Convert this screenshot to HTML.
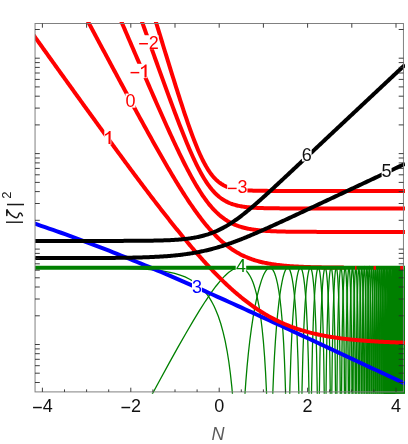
<!DOCTYPE html>
<html><head><meta charset="utf-8"><title>plot</title>
<style>
html,body{margin:0;padding:0;background:#fff;}
body{width:408px;height:444px;overflow:hidden;position:relative;font-family:"Liberation Sans",sans-serif;}
svg text{font-family:"Liberation Sans",sans-serif;}
</style></head><body>
<svg width="408" height="444" viewBox="0 0 408 444" style="position:absolute;left:0;top:0;will-change:transform">
<defs><clipPath id="c"><rect x="35.05" y="22.0" width="369.9" height="371.7"/></clipPath></defs>
<g clip-path="url(#c)" fill="none" stroke-linejoin="round">
<path d="M35.05 431.90L131.85 431.89L158.95 381.70L169.25 362.92L178.15 346.94L186.10 332.97L193.20 320.85L199.55 310.39L205.35 301.27L210.85 293.13L215.90 286.23L220.50 280.55L222.70 278.08L224.80 275.91L226.85 273.97L228.80 272.32L230.70 270.92L232.50 269.79L234.25 268.91L235.95 268.28L237.60 267.90L239.15 267.78L240.80 267.92L242.35 268.35L243.90 269.10L245.35 270.11L246.80 271.48L248.15 273.10L249.45 275.02L250.70 277.25L251.90 279.77L253.05 282.60L254.15 285.72L255.25 289.32L256.25 293.05L257.25 297.29L259.05 306.48L260.65 316.78L262.10 328.48L263.40 341.64L264.55 356.27L265.55 372.35L266.40 389.73L267.15 409.50L267.80 431.90L271.65 431.90L271.70 431.55L272.25 410.28L272.90 390.54L273.60 373.45L274.45 356.55L275.40 341.10L276.45 327.01L277.60 314.23L278.90 302.33L279.95 294.32L281.00 287.52L282.10 281.58L283.20 276.73L284.30 272.94L285.45 270.07L286.05 269.02L286.60 268.34L287.15 267.92L287.70 267.78L288.30 267.95L288.90 268.47L289.50 269.37L290.05 270.54L291.15 273.99L292.15 278.55L293.10 284.38L294.00 291.55L294.85 300.12L295.60 309.54L296.30 320.38L296.95 332.79L298.00 360.16L298.80 391.90L299.45 431.90L301.35 431.90L302.05 387.99L302.85 355.18L303.90 326.41L304.50 314.14L305.20 302.44L306.35 287.82L307.00 281.58L307.65 276.60L308.30 272.77L308.95 270.03L309.65 268.28L310.00 267.88L310.30 267.78L310.65 267.96L310.95 268.38L311.60 270.16L312.20 272.94L312.80 276.94L313.35 281.81L313.90 288.04L314.85 302.83L315.80 325.01L316.60 353.71L317.20 387.33L317.70 431.90L318.95 431.90L319.40 390.23L319.90 358.77L320.55 331.06L321.40 306.51L322.40 287.46L322.95 280.15L323.50 274.66L324.10 270.54L324.70 268.28L325.00 267.83L325.30 267.84L325.60 268.31L325.85 269.08L326.25 271.03L326.65 273.94L327.40 282.34L328.05 293.44L328.65 307.98L329.30 330.74L329.85 359.85L330.25 392.36L330.55 430.87L330.60 431.90L331.50 431.90L331.85 390.07L332.20 360.58L332.65 334.33L333.20 311.89L333.85 293.48L334.60 279.45L335.00 274.40L335.40 270.82L335.80 268.63L336.05 267.95L336.25 267.78L336.45 267.94L336.65 268.46L337.05 270.57L337.45 274.21L337.80 278.80L338.50 292.77L339.10 311.72L339.55 332.64L339.95 359.65L340.55 431.90L341.25 431.90L341.30 430.76L341.55 390.20L341.90 354.90L342.35 325.53L342.85 303.62L343.35 288.48L343.90 277.29L344.50 270.19L344.80 268.42L344.95 267.95L345.10 267.78L345.25 267.89L345.40 268.28L345.70 269.97L346.25 276.39L346.80 287.98L347.25 302.59L347.70 324.13L348.10 353.22L348.40 387.27L348.65 431.90L349.25 431.90L349.75 359.15L350.40 312.45L350.85 293.57L351.35 279.76L351.90 270.97L352.20 268.57L352.35 267.98L352.50 267.78L352.65 267.97L352.80 268.58L353.05 270.51L353.60 279.26L354.10 293.88L354.50 312.13L355.10 360.33L355.50 431.90L356.05 431.90L356.50 353.47L356.80 326.35L357.20 302.25L357.55 287.94L357.95 276.94L358.35 270.42L358.55 268.66L358.80 267.78L358.95 267.96L359.05 268.38L359.25 269.95L359.65 276.25L360.05 287.49L360.40 302.73L360.75 325.57L361.05 355.68L361.45 431.90L361.90 431.90L362.25 361.54L362.75 312.99L363.10 293.50L363.50 279.14L363.90 270.92L364.10 268.76L364.35 267.78L364.55 268.35L364.75 270.18L365.15 277.92L365.50 290.06L365.85 309.19L366.35 359.34L366.70 431.90L367.05 431.90L367.10 430.73L367.40 360.21L367.95 304.98L368.55 277.82L368.90 270.37L369.05 268.69L369.25 267.78L369.45 268.39L369.60 269.86L369.95 276.98L370.25 287.91L370.55 304.84L371.05 357.82L371.35 431.90L371.70 431.90L372.00 360.94L372.40 312.82L372.70 292.37L373.00 279.21L373.35 270.50L373.50 268.63L373.70 267.78L373.85 268.35L374.00 269.99L374.30 276.72L374.60 288.91L374.85 304.66L375.30 356.71L375.60 431.90L375.90 431.90L376.20 355.41L376.60 307.03L376.90 287.22L377.20 275.20L377.55 268.51L377.65 267.89L377.75 267.81L377.90 268.75L378.15 273.24L378.40 281.83L378.80 307.16L379.20 360.14L379.45 431.90L379.75 431.90L379.95 367.43L380.30 314.26L380.80 279.88L381.10 270.69L381.25 268.49L381.40 267.78L381.65 269.89L381.90 276.43L382.35 302.75L382.75 356.41L383.00 431.90L383.25 431.90L383.50 358.17L383.80 312.40L384.25 279.68L384.50 271.20L384.65 268.62L384.80 267.78L385.05 270.23L385.30 277.89L385.70 304.55L386.05 355.94L386.30 431.90L386.50 431.90L386.75 357.83L387.05 309.83L387.50 277.20L387.75 269.65L387.85 268.27L387.95 267.78L388.00 267.86L388.25 271.66L388.45 279.14L388.80 304.95L389.10 350.74L389.35 431.90L389.55 431.90L389.80 352.08L390.05 310.56L390.45 278.46L390.70 269.86L390.80 268.31L390.85 267.92L390.90 267.78L390.95 267.89L391.15 270.89L391.35 278.36L391.70 305.73L392.00 357.13L392.20 431.90L392.40 431.90L392.60 359.94L392.85 312.52L393.25 277.97L393.45 270.45L393.55 268.54L393.70 267.84L393.90 270.95L394.10 279.13L394.45 310.17L394.70 357.94L394.90 431.90L395.00 431.90" stroke="#008000" stroke-width="1.3" stroke-linejoin="miter"/>
<path d="M35.05 267.79L87.90 267.88L117.50 268.19L129.00 268.48L138.75 268.87L147.25 269.38L154.80 270.04L162.15 270.95L168.75 272.07L174.70 273.43L180.15 275.06L185.10 276.97L189.70 279.20L193.95 281.76L197.85 284.66L199.95 286.48L202.00 288.47L203.95 290.57L205.80 292.79L207.60 295.18L209.30 297.67L210.95 300.34L212.55 303.20L214.10 306.25L215.55 309.40L218.30 316.26L220.80 323.77L223.10 332.06L225.20 341.14L227.10 351.02L228.85 361.97L230.40 373.71L231.80 386.58L233.00 400.02L234.05 414.38L235.10 431.90L242.85 431.90L243.85 412.18L244.75 396.97L245.85 381.33L247.05 366.90L248.40 353.05L249.85 340.28L251.45 328.13L253.20 316.66L255.10 305.98L257.15 296.16L259.25 287.73L261.40 280.65L262.50 277.61L263.55 275.07L264.65 272.80L265.70 271.01L266.75 269.59L267.80 268.57L268.80 267.97L269.80 267.78L270.65 267.94L271.50 268.42L272.35 269.24L273.15 270.36L273.95 271.84L274.70 273.57L275.45 275.67L276.20 278.19L277.55 283.88L278.85 291.08L280.00 299.20L281.10 308.96L282.05 319.44L282.95 331.73L283.70 344.37L284.40 358.94L285.00 374.49L285.50 390.62L286.40 431.90L288.95 431.90L289.85 388.72L290.90 355.69L291.55 340.55L292.30 326.24L293.10 313.70L293.95 302.72L294.70 294.63L295.45 287.82L296.25 281.79L297.05 276.91L297.90 272.89L298.75 270.04L299.20 268.99L299.60 268.32L300.00 267.92L300.40 267.78L300.85 267.94L301.30 268.45L301.75 269.32L302.15 270.42L303.00 273.86L303.80 278.60L304.55 284.62L305.25 291.89L305.90 300.39L306.50 310.14L307.50 332.09L308.35 359.97L309.00 392.62L309.50 431.90L311.00 431.90L311.05 431.79L311.60 387.28L312.40 348.62L313.40 318.23L314.00 305.17L314.65 293.96L315.25 285.76L315.90 278.82L316.55 273.67L317.25 269.95L317.60 268.78L317.95 268.05L318.30 267.78L318.60 267.91L318.95 268.50L319.25 269.40L319.90 272.67L320.70 279.46L321.40 288.45L322.05 300.10L322.60 313.31L323.25 334.82L323.80 361.26L324.25 393.76L324.60 431.90L325.65 431.90L326.10 386.81L326.45 361.30L326.95 335.36L327.60 311.85L328.35 293.19L329.20 279.25L329.65 274.27L330.10 270.75L330.55 268.59L330.80 267.98L331.05 267.78L331.30 267.99L331.50 268.48L331.95 270.60L332.40 274.28L332.80 279.00L333.55 292.35L334.20 310.38L334.75 333.10L335.20 360.65L335.85 431.90L336.65 431.90L337.00 386.28L337.35 355.13L337.80 328.05L338.40 303.78L338.95 288.65L339.55 277.50L340.20 270.38L340.55 268.44L340.75 267.90L340.90 267.78L341.10 267.97L341.25 268.40L341.60 270.36L341.95 273.75L342.30 278.74L342.90 291.77L343.45 310.48L343.90 333.45L344.25 359.68L344.80 431.90L345.45 431.90L346.00 356.91L346.40 327.44L346.90 303.17L347.35 288.35L347.85 277.25L348.40 270.16L348.65 268.51L348.80 267.98L348.95 267.78L349.10 267.92L349.25 268.40L349.55 270.43L350.15 279.20L350.65 292.40L351.10 310.84L351.50 335.56L351.80 363.35L352.20 431.90L352.75 431.90L352.80 431.70L353.25 356.66L353.60 326.56L354.00 303.75L354.40 288.22L354.85 276.70L355.30 270.09L355.55 268.30L355.70 267.83L355.80 267.78L356.05 268.56L356.25 270.14L356.70 277.08L357.10 287.91L357.50 304.66L357.85 326.66L358.15 354.98L358.60 431.90L359.05 431.90L359.50 353.58L360.10 305.20L360.50 287.32L361.00 273.96L361.25 270.21L361.50 268.19L361.65 267.78L361.80 267.98L362.05 269.68L362.40 275.13L362.70 283.08L363.25 308.37L363.80 360.37L364.15 431.90L364.55 431.90L364.95 353.84L365.45 307.28L365.80 288.85L366.20 275.78L366.60 269.11L366.85 267.79L366.95 267.86L367.05 268.26L367.40 272.49L367.70 279.96L368.25 306.12L368.75 356.66L369.10 431.90L369.45 431.90L369.80 354.26L370.25 307.36L370.55 289.57L370.90 276.45L371.25 269.50L371.45 267.93L371.55 267.78L371.65 268.04L371.95 271.44L372.25 279.11L372.75 304.58L373.20 352.97L373.50 428.89L373.55 431.90L373.85 431.90L374.15 358.10L374.55 309.84L375.10 278.76L375.40 270.87L375.55 268.77L375.75 267.78L375.95 268.81L376.10 270.97L376.40 279.21L376.70 293.83L376.95 312.97L377.30 359.74L377.55 431.90L377.85 431.90L378.15 354.45L378.60 301.12L379.05 276.91L379.30 270.39L379.45 268.40L379.60 267.78L379.75 268.52L379.90 270.66L380.20 279.57L380.70 313.36L381.05 366.80L381.25 431.90L381.55 431.90L381.70 377.41L381.95 329.63L382.30 294.50L382.70 274.46L383.00 268.38L383.10 267.81L383.20 267.95L383.35 269.50L383.65 277.83L383.95 294.79L384.40 349.83L384.65 429.70L384.70 431.90L384.90 431.90L385.20 348.52L385.55 301.60L385.80 283.61L386.05 273.03L386.35 267.90L386.40 267.78L386.45 267.86L386.50 268.14L386.65 270.27L387.05 286.43L387.35 312.70L387.60 353.00L387.85 431.90L388.05 431.90L388.30 355.20L388.60 307.43L389.05 275.66L389.30 268.90L389.45 267.78L389.55 268.21L389.75 271.99L389.95 280.08L390.30 308.29L390.60 360.43L390.80 431.90L391.00 431.90L391.20 361.67L391.45 314.41L391.85 279.36L392.05 271.33L392.30 267.78L392.50 269.81L392.70 276.46L393.05 302.51L393.35 352.20L393.55 431.90L393.75 431.90L393.95 360.20L394.20 311.62L394.55 279.70L394.75 271.16L394.85 268.89L395.00 267.79" stroke="#008000" stroke-width="1.3" stroke-linejoin="miter"/>
<linearGradient id="gh" gradientUnits="userSpaceOnUse" x1="335" y1="0" x2="386" y2="0"><stop offset="0" stop-color="#008000" stop-opacity="0"/><stop offset="1" stop-color="#008000" stop-opacity="0.75"/></linearGradient>
<linearGradient id="gv" gradientUnits="userSpaceOnUse" x1="0" y1="268" x2="0" y2="335"><stop offset="0" stop-color="#fff" stop-opacity="0.3"/><stop offset="1" stop-color="#fff" stop-opacity="1"/></linearGradient>
<mask id="mk" maskUnits="userSpaceOnUse" x="0" y="0" width="408" height="444"><rect x="0" y="0" width="408" height="444" fill="url(#gv)"/></mask>
<rect x="335" y="268" width="70.5" height="126.89999999999998" fill="url(#gh)" stroke="none" mask="url(#mk)"/>
<path d="M393 267.8L384 327.8V394.9H405.5V267.8Z" fill="#008000" stroke="none"/>
<path d="M33.05 223.06L37.05 224.41L41.05 225.77L45.05 227.14L49.05 228.52L53.05 229.92L57.05 231.33L61.05 232.75L65.05 234.18L69.05 235.63L73.05 237.08L77.05 238.55L81.05 240.03L85.05 241.53L89.05 243.03L93.05 244.55L97.05 246.08L101.05 247.62L105.05 249.17L109.05 250.73L113.05 252.31L117.05 253.89L121.05 255.49L125.05 257.10L129.05 258.71L133.05 260.34L137.05 261.98L141.05 263.63L145.05 265.29L149.05 266.95L153.05 268.63L157.05 270.32L161.05 272.01L165.05 273.72L169.05 275.43L173.05 277.15L177.05 278.88L181.05 280.62L185.05 282.36L189.05 284.11L193.05 285.87L197.05 287.64L201.05 289.41L205.05 291.19L209.05 292.97L213.05 294.76L217.05 296.55L221.05 298.35L225.05 300.15L229.05 301.96L233.05 303.78L237.05 305.59L241.05 307.42L245.05 309.24L249.05 311.07L253.05 312.90L257.05 314.74L261.05 316.57L265.05 318.41L269.05 320.26L273.05 322.10L277.05 323.95L281.05 325.80L285.05 327.65L289.05 329.51L293.05 331.36L297.05 333.22L301.05 335.08L305.05 336.94L309.05 338.80L313.05 340.66L317.05 342.52L321.05 344.39L325.05 346.25L329.05 348.12L333.05 349.99L337.05 351.85L341.05 353.72L345.05 355.59L349.05 357.46L353.05 359.33L357.05 361.20L361.05 363.07L365.05 364.94L369.05 366.82L373.05 368.69L377.05 370.56L381.05 372.43L385.05 374.31L389.05 376.18L393.05 378.05L397.05 379.93L401.05 381.80L405.05 383.67" stroke="#0000ff" stroke-width="4.0"/>
<path d="M148.05 -3.80L149.05 -0.53L150.05 2.75L151.05 6.02L152.05 9.30L153.05 12.57L154.05 15.84L155.05 19.12L156.05 22.39L157.05 25.65L158.05 28.92L159.05 32.18L160.05 35.45L161.05 38.71L162.05 41.96L163.05 45.22L164.05 48.47L165.05 51.72L166.05 54.96L167.05 58.20L168.05 61.43L169.05 64.66L170.05 67.88L171.05 71.10L172.05 74.30L173.05 77.50L174.05 80.69L175.05 83.87L176.05 87.03L177.05 90.19L178.05 93.33L179.05 96.45L180.05 99.55L181.05 102.64L182.05 105.71L183.05 108.75L184.05 111.77L185.05 114.76L186.05 117.72L187.05 120.65L188.05 123.54L189.05 126.40L190.05 129.22L191.05 131.99L192.05 134.72L193.05 137.39L194.05 140.02L195.05 142.58L196.05 145.09L197.05 147.54L198.05 149.92L199.05 152.23L200.05 154.47L201.05 156.64L202.05 158.74L203.05 160.75L204.05 162.69L205.05 164.54L206.05 166.32L207.05 168.01L208.05 169.63L209.05 171.16L210.05 172.60L211.05 173.97L212.05 175.26L213.05 176.48L214.05 177.62L215.05 178.68L216.05 179.68L217.05 180.60L218.05 181.47L219.05 182.27L220.05 183.01L221.05 183.70L222.05 184.33L223.05 184.91L224.05 185.45L225.05 185.95L226.05 186.40L227.05 186.82L228.05 187.20L229.05 187.54L230.05 187.86L231.05 188.15L232.05 188.41L233.05 188.65L234.05 188.87L235.05 189.07L236.05 189.25L237.05 189.41L238.05 189.56L239.05 189.70L240.05 189.82L241.05 189.93L242.05 190.03L243.05 190.12L244.05 190.20L245.05 190.27L246.05 190.34L247.05 190.40L248.05 190.45L249.05 190.50L250.05 190.54L251.05 190.58L252.05 190.62L253.05 190.65L254.05 190.68L255.05 190.71L256.05 190.73L257.05 190.75L258.05 190.77L259.05 190.79L260.05 190.80L261.05 190.82L262.05 190.83L263.05 190.84L264.05 190.85L265.05 190.86L266.05 190.87L267.05 190.87L268.05 190.88L269.05 190.89L270.05 190.89L271.05 190.90L272.05 190.90L273.05 190.90L274.05 190.91L275.05 190.91L276.05 190.91L277.05 190.92L278.05 190.92L279.05 190.92L280.05 190.92L281.05 190.92L282.05 190.92L283.05 190.93L284.05 190.93L285.05 190.93L286.05 190.93L287.05 190.93L288.05 190.93L289.05 190.93L290.05 190.93L291.05 190.93L292.05 190.93L293.05 190.93L294.05 190.93L295.05 190.93L296.05 190.93L297.05 190.93L298.05 190.93L299.05 190.93L300.05 190.93L301.05 190.93L302.05 190.93L303.05 190.93L304.05 190.94L305.05 190.94L306.05 190.94L307.05 190.94L308.05 190.94L309.05 190.94L310.05 190.94L311.05 190.94L312.05 190.94L313.05 190.94L314.05 190.94L315.05 190.94L316.05 190.94L317.05 190.94L318.05 190.94L319.05 190.94L320.05 190.94L321.05 190.94L322.05 190.94L323.05 190.94L324.05 190.94L325.05 190.94L326.05 190.94L327.05 190.94L328.05 190.94L329.05 190.94L330.05 190.94L331.05 190.94L332.05 190.94L333.05 190.94L334.05 190.94L335.05 190.94L336.05 190.94L337.05 190.94L338.05 190.94L339.05 190.94L340.05 190.94L341.05 190.94L342.05 190.94L343.05 190.94L344.05 190.94L345.05 190.94L346.05 190.94L347.05 190.94L348.05 190.94L349.05 190.94L350.05 190.94L351.05 190.94L352.05 190.94L353.05 190.94L354.05 190.94L355.05 190.94L356.05 190.94L357.05 190.94L358.05 190.94L359.05 190.94L360.05 190.94L361.05 190.94L362.05 190.94L363.05 190.94L364.05 190.94L365.05 190.94L366.05 190.94L367.05 190.94L368.05 190.94L369.05 190.94L370.05 190.94L371.05 190.94L372.05 190.94L373.05 190.94L374.05 190.94L375.05 190.94L376.05 190.94L377.05 190.94L378.05 190.94L379.05 190.94L380.05 190.94L381.05 190.94L382.05 190.94L383.05 190.94L384.05 190.94L385.05 190.94L386.05 190.94L387.05 190.94L388.05 190.94L389.05 190.94L390.05 190.94L391.05 190.94L392.05 190.94L393.05 190.94L394.05 190.94L395.05 190.94L396.05 190.94L397.05 190.94L398.05 190.94L399.05 190.94L400.05 190.94L401.05 190.94L402.05 190.94L403.05 190.94L404.05 190.94L405.05 190.94" stroke="#ff0000" stroke-width="4.0"/>
<path d="M132.05 -6.20L133.05 -3.39L134.05 -0.58L135.05 2.23L136.05 5.04L137.05 7.84L138.05 10.65L139.05 13.46L140.05 16.27L141.05 19.07L142.05 21.88L143.05 24.68L144.05 27.48L145.05 30.29L146.05 33.09L147.05 35.89L148.05 38.69L149.05 41.48L150.05 44.28L151.05 47.07L152.05 49.87L153.05 52.66L154.05 55.44L155.05 58.23L156.05 61.01L157.05 63.79L158.05 66.57L159.05 69.35L160.05 72.12L161.05 74.88L162.05 77.64L163.05 80.40L164.05 83.15L165.05 85.90L166.05 88.64L167.05 91.38L168.05 94.10L169.05 96.82L170.05 99.53L171.05 102.23L172.05 104.93L173.05 107.61L174.05 110.28L175.05 112.93L176.05 115.58L177.05 118.21L178.05 120.82L179.05 123.42L180.05 125.99L181.05 128.55L182.05 131.09L183.05 133.61L184.05 136.10L185.05 138.57L186.05 141.01L187.05 143.43L188.05 145.81L189.05 148.16L190.05 150.48L191.05 152.76L192.05 155.01L193.05 157.21L194.05 159.38L195.05 161.50L196.05 163.58L197.05 165.61L198.05 167.59L199.05 169.53L200.05 171.41L201.05 173.25L202.05 175.02L203.05 176.75L204.05 178.42L205.05 180.03L206.05 181.59L207.05 183.09L208.05 184.53L209.05 185.91L210.05 187.24L211.05 188.51L212.05 189.73L213.05 190.88L214.05 191.99L215.05 193.03L216.05 194.03L217.05 194.97L218.05 195.87L219.05 196.71L220.05 197.51L221.05 198.26L222.05 198.97L223.05 199.63L224.05 200.26L225.05 200.84L226.05 201.39L227.05 201.90L228.05 202.38L229.05 202.83L230.05 203.25L231.05 203.64L232.05 204.00L233.05 204.34L234.05 204.65L235.05 204.94L236.05 205.21L237.05 205.46L238.05 205.70L239.05 205.91L240.05 206.11L241.05 206.30L242.05 206.47L243.05 206.62L244.05 206.77L245.05 206.90L246.05 207.03L247.05 207.14L248.05 207.25L249.05 207.35L250.05 207.44L251.05 207.52L252.05 207.59L253.05 207.66L254.05 207.73L255.05 207.79L256.05 207.84L257.05 207.89L258.05 207.94L259.05 207.98L260.05 208.02L261.05 208.06L262.05 208.09L263.05 208.12L264.05 208.15L265.05 208.17L266.05 208.20L267.05 208.22L268.05 208.24L269.05 208.26L270.05 208.27L271.05 208.29L272.05 208.30L273.05 208.32L274.05 208.33L275.05 208.34L276.05 208.35L277.05 208.36L278.05 208.36L279.05 208.37L280.05 208.38L281.05 208.39L282.05 208.39L283.05 208.40L284.05 208.40L285.05 208.41L286.05 208.41L287.05 208.41L288.05 208.42L289.05 208.42L290.05 208.42L291.05 208.43L292.05 208.43L293.05 208.43L294.05 208.43L295.05 208.44L296.05 208.44L297.05 208.44L298.05 208.44L299.05 208.44L300.05 208.44L301.05 208.44L302.05 208.44L303.05 208.45L304.05 208.45L305.05 208.45L306.05 208.45L307.05 208.45L308.05 208.45L309.05 208.45L310.05 208.45L311.05 208.45L312.05 208.45L313.05 208.45L314.05 208.45L315.05 208.45L316.05 208.45L317.05 208.45L318.05 208.45L319.05 208.45L320.05 208.45L321.05 208.45L322.05 208.45L323.05 208.45L324.05 208.45L325.05 208.45L326.05 208.45L327.05 208.45L328.05 208.45L329.05 208.45L330.05 208.45L331.05 208.45L332.05 208.45L333.05 208.45L334.05 208.45L335.05 208.45L336.05 208.45L337.05 208.45L338.05 208.45L339.05 208.45L340.05 208.45L341.05 208.45L342.05 208.45L343.05 208.45L344.05 208.46L345.05 208.46L346.05 208.46L347.05 208.46L348.05 208.46L349.05 208.46L350.05 208.46L351.05 208.46L352.05 208.46L353.05 208.46L354.05 208.46L355.05 208.46L356.05 208.46L357.05 208.46L358.05 208.46L359.05 208.46L360.05 208.46L361.05 208.46L362.05 208.46L363.05 208.46L364.05 208.46L365.05 208.46L366.05 208.46L367.05 208.46L368.05 208.46L369.05 208.46L370.05 208.46L371.05 208.46L372.05 208.46L373.05 208.46L374.05 208.46L375.05 208.46L376.05 208.46L377.05 208.46L378.05 208.46L379.05 208.46L380.05 208.46L381.05 208.46L382.05 208.46L383.05 208.46L384.05 208.46L385.05 208.46L386.05 208.46L387.05 208.46L388.05 208.46L389.05 208.46L390.05 208.46L391.05 208.46L392.05 208.46L393.05 208.46L394.05 208.46L395.05 208.46L396.05 208.46L397.05 208.46L398.05 208.46L399.05 208.46L400.05 208.46L401.05 208.46L402.05 208.46L403.05 208.46L404.05 208.46L405.05 208.46" stroke="#ff0000" stroke-width="4.0"/>
<path d="M110.05 -4.99L111.05 -2.65L112.05 -0.31L113.05 2.03L114.05 4.37L115.05 6.71L116.05 9.05L117.05 11.39L118.05 13.73L119.05 16.07L120.05 18.41L121.05 20.75L122.05 23.09L123.05 25.43L124.05 27.76L125.05 30.10L126.05 32.44L127.05 34.77L128.05 37.11L129.05 39.44L130.05 41.78L131.05 44.11L132.05 46.44L133.05 48.77L134.05 51.10L135.05 53.43L136.05 55.76L137.05 58.09L138.05 60.41L139.05 62.74L140.05 65.06L141.05 67.38L142.05 69.70L143.05 72.02L144.05 74.34L145.05 76.65L146.05 78.97L147.05 81.28L148.05 83.59L149.05 85.89L150.05 88.19L151.05 90.49L152.05 92.79L153.05 95.09L154.05 97.38L155.05 99.66L156.05 101.95L157.05 104.22L158.05 106.50L159.05 108.77L160.05 111.03L161.05 113.29L162.05 115.55L163.05 117.79L164.05 120.04L165.05 122.27L166.05 124.50L167.05 126.72L168.05 128.93L169.05 131.13L170.05 133.33L171.05 135.51L172.05 137.69L173.05 139.85L174.05 142.00L175.05 144.14L176.05 146.27L177.05 148.38L178.05 150.48L179.05 152.57L180.05 154.64L181.05 156.69L182.05 158.73L183.05 160.75L184.05 162.75L185.05 164.73L186.05 166.69L187.05 168.63L188.05 170.54L189.05 172.44L190.05 174.31L191.05 176.15L192.05 177.97L193.05 179.76L194.05 181.53L195.05 183.26L196.05 184.97L197.05 186.64L198.05 188.29L199.05 189.90L200.05 191.48L201.05 193.03L202.05 194.54L203.05 196.02L204.05 197.46L205.05 198.87L206.05 200.24L207.05 201.58L208.05 202.87L209.05 204.14L210.05 205.36L211.05 206.55L212.05 207.70L213.05 208.81L214.05 209.89L215.05 210.92L216.05 211.93L217.05 212.89L218.05 213.82L219.05 214.72L220.05 215.58L221.05 216.40L222.05 217.20L223.05 217.95L224.05 218.68L225.05 219.38L226.05 220.04L227.05 220.68L228.05 221.28L229.05 221.86L230.05 222.41L231.05 222.94L232.05 223.44L233.05 223.91L234.05 224.36L235.05 224.79L236.05 225.20L237.05 225.58L238.05 225.95L239.05 226.29L240.05 226.62L241.05 226.93L242.05 227.22L243.05 227.50L244.05 227.76L245.05 228.01L246.05 228.24L247.05 228.46L248.05 228.67L249.05 228.86L250.05 229.05L251.05 229.22L252.05 229.39L253.05 229.54L254.05 229.69L255.05 229.82L256.05 229.95L257.05 230.07L258.05 230.19L259.05 230.29L260.05 230.39L261.05 230.49L262.05 230.58L263.05 230.66L264.05 230.74L265.05 230.81L266.05 230.88L267.05 230.95L268.05 231.01L269.05 231.06L270.05 231.12L271.05 231.17L272.05 231.21L273.05 231.26L274.05 231.30L275.05 231.34L276.05 231.37L277.05 231.41L278.05 231.44L279.05 231.47L280.05 231.50L281.05 231.53L282.05 231.55L283.05 231.57L284.05 231.59L285.05 231.61L286.05 231.63L287.05 231.65L288.05 231.67L289.05 231.68L290.05 231.70L291.05 231.71L292.05 231.72L293.05 231.74L294.05 231.75L295.05 231.76L296.05 231.77L297.05 231.78L298.05 231.79L299.05 231.79L300.05 231.80L301.05 231.81L302.05 231.82L303.05 231.82L304.05 231.83L305.05 231.83L306.05 231.84L307.05 231.84L308.05 231.85L309.05 231.85L310.05 231.85L311.05 231.86L312.05 231.86L313.05 231.86L314.05 231.87L315.05 231.87L316.05 231.87L317.05 231.88L318.05 231.88L319.05 231.88L320.05 231.88L321.05 231.88L322.05 231.89L323.05 231.89L324.05 231.89L325.05 231.89L326.05 231.89L327.05 231.89L328.05 231.89L329.05 231.90L330.05 231.90L331.05 231.90L332.05 231.90L333.05 231.90L334.05 231.90L335.05 231.90L336.05 231.90L337.05 231.90L338.05 231.90L339.05 231.90L340.05 231.90L341.05 231.90L342.05 231.90L343.05 231.90L344.05 231.90L345.05 231.91L346.05 231.91L347.05 231.91L348.05 231.91L349.05 231.91L350.05 231.91L351.05 231.91L352.05 231.91L353.05 231.91L354.05 231.91L355.05 231.91L356.05 231.91L357.05 231.91L358.05 231.91L359.05 231.91L360.05 231.91L361.05 231.91L362.05 231.91L363.05 231.91L364.05 231.91L365.05 231.91L366.05 231.91L367.05 231.91L368.05 231.91L369.05 231.91L370.05 231.91L371.05 231.91L372.05 231.91L373.05 231.91L374.05 231.91L375.05 231.91L376.05 231.91L377.05 231.91L378.05 231.91L379.05 231.91L380.05 231.91L381.05 231.91L382.05 231.91L383.05 231.91L384.05 231.91L385.05 231.91L386.05 231.91L387.05 231.91L388.05 231.91L389.05 231.91L390.05 231.91L391.05 231.91L392.05 231.91L393.05 231.91L394.05 231.91L395.05 231.91L396.05 231.91L397.05 231.91L398.05 231.91L399.05 231.91L400.05 231.91L401.05 231.91L402.05 231.91L403.05 231.91L404.05 231.91L405.05 231.91" stroke="#ff0000" stroke-width="4.0"/>
<path d="M73.05 -6.42L74.05 -4.55L75.05 -2.67L76.05 -0.80L77.05 1.07L78.05 2.94L79.05 4.82L80.05 6.69L81.05 8.56L82.05 10.43L83.05 12.30L84.05 14.18L85.05 16.05L86.05 17.92L87.05 19.79L88.05 21.66L89.05 23.53L90.05 25.40L91.05 27.27L92.05 29.14L93.05 31.01L94.05 32.88L95.05 34.75L96.05 36.62L97.05 38.49L98.05 40.36L99.05 42.22L100.05 44.09L101.05 45.96L102.05 47.83L103.05 49.69L104.05 51.56L105.05 53.42L106.05 55.29L107.05 57.15L108.05 59.02L109.05 60.88L110.05 62.74L111.05 64.60L112.05 66.47L113.05 68.33L114.05 70.19L115.05 72.05L116.05 73.90L117.05 75.76L118.05 77.62L119.05 79.48L120.05 81.33L121.05 83.19L122.05 85.04L123.05 86.89L124.05 88.74L125.05 90.59L126.05 92.44L127.05 94.29L128.05 96.14L129.05 97.98L130.05 99.83L131.05 101.67L132.05 103.51L133.05 105.35L134.05 107.19L135.05 109.02L136.05 110.86L137.05 112.69L138.05 114.52L139.05 116.35L140.05 118.17L141.05 120.00L142.05 121.82L143.05 123.64L144.05 125.45L145.05 127.27L146.05 129.08L147.05 130.89L148.05 132.69L149.05 134.49L150.05 136.29L151.05 138.09L152.05 139.88L153.05 141.67L154.05 143.45L155.05 145.23L156.05 147.01L157.05 148.78L158.05 150.55L159.05 152.31L160.05 154.07L161.05 155.82L162.05 157.57L163.05 159.31L164.05 161.05L165.05 162.78L166.05 164.50L167.05 166.22L168.05 167.93L169.05 169.63L170.05 171.33L171.05 173.02L172.05 174.70L173.05 176.37L174.05 178.04L175.05 179.69L176.05 181.34L177.05 182.98L178.05 184.61L179.05 186.22L180.05 187.83L181.05 189.43L182.05 191.02L183.05 192.59L184.05 194.16L185.05 195.71L186.05 197.25L187.05 198.78L188.05 200.29L189.05 201.79L190.05 203.28L191.05 204.75L192.05 206.21L193.05 207.65L194.05 209.08L195.05 210.50L196.05 211.89L197.05 213.27L198.05 214.64L199.05 215.98L200.05 217.31L201.05 218.62L202.05 219.92L203.05 221.19L204.05 222.45L205.05 223.69L206.05 224.91L207.05 226.11L208.05 227.29L209.05 228.45L210.05 229.58L211.05 230.70L212.05 231.80L213.05 232.88L214.05 233.94L215.05 234.97L216.05 235.99L217.05 236.98L218.05 237.96L219.05 238.91L220.05 239.84L221.05 240.75L222.05 241.64L223.05 242.50L224.05 243.35L225.05 244.17L226.05 244.98L227.05 245.76L228.05 246.52L229.05 247.27L230.05 247.99L231.05 248.69L232.05 249.37L233.05 250.03L234.05 250.68L235.05 251.30L236.05 251.91L237.05 252.50L238.05 253.07L239.05 253.62L240.05 254.15L241.05 254.67L242.05 255.17L243.05 255.65L244.05 256.12L245.05 256.57L246.05 257.01L247.05 257.43L248.05 257.84L249.05 258.23L250.05 258.61L251.05 258.98L252.05 259.33L253.05 259.67L254.05 259.99L255.05 260.31L256.05 260.61L257.05 260.91L258.05 261.19L259.05 261.46L260.05 261.72L261.05 261.97L262.05 262.21L263.05 262.44L264.05 262.66L265.05 262.87L266.05 263.08L267.05 263.28L268.05 263.47L269.05 263.65L270.05 263.82L271.05 263.99L272.05 264.15L273.05 264.30L274.05 264.45L275.05 264.59L276.05 264.73L277.05 264.86L278.05 264.98L279.05 265.10L280.05 265.22L281.05 265.33L282.05 265.43L283.05 265.53L284.05 265.63L285.05 265.72L286.05 265.81L287.05 265.90L288.05 265.98L289.05 266.06L290.05 266.13L291.05 266.20L292.05 266.27L293.05 266.34L294.05 266.40L295.05 266.46L296.05 266.52L297.05 266.57L298.05 266.62L299.05 266.67L300.05 266.72L301.05 266.77L302.05 266.81L303.05 266.85L304.05 266.89L305.05 266.93L306.05 266.97L307.05 267.01L308.05 267.04L309.05 267.07L310.05 267.10L311.05 267.13L312.05 267.16L313.05 267.19L314.05 267.21L315.05 267.24L316.05 267.26L317.05 267.28L318.05 267.31L319.05 267.33L320.05 267.35L321.05 267.37L322.05 267.38L323.05 267.40L324.05 267.42L325.05 267.43L326.05 267.45L327.05 267.46L328.05 267.48L329.05 267.49L330.05 267.50L331.05 267.51L332.05 267.53L333.05 267.54L334.05 267.55L335.05 267.56L336.05 267.57L337.05 267.58L338.05 267.59L339.05 267.59L340.05 267.60L341.05 267.61L342.05 267.62L343.05 267.62L344.05 267.63" stroke="#ff0000" stroke-width="4.0"/>
<path d="M33.05 34.34L34.05 35.74L35.05 37.14L36.05 38.54L37.05 39.94L38.05 41.34L39.05 42.74L40.05 44.13L41.05 45.53L42.05 46.93L43.05 48.33L44.05 49.73L45.05 51.13L46.05 52.53L47.05 53.92L48.05 55.32L49.05 56.72L50.05 58.12L51.05 59.51L52.05 60.91L53.05 62.31L54.05 63.70L55.05 65.10L56.05 66.50L57.05 67.89L58.05 69.29L59.05 70.68L60.05 72.08L61.05 73.47L62.05 74.87L63.05 76.26L64.05 77.65L65.05 79.05L66.05 80.44L67.05 81.83L68.05 83.23L69.05 84.62L70.05 86.01L71.05 87.40L72.05 88.79L73.05 90.18L74.05 91.57L75.05 92.96L76.05 94.35L77.05 95.74L78.05 97.13L79.05 98.52L80.05 99.91L81.05 101.30L82.05 102.68L83.05 104.07L84.05 105.46L85.05 106.84L86.05 108.23L87.05 109.61L88.05 111.00L89.05 112.38L90.05 113.76L91.05 115.15L92.05 116.53L93.05 117.91L94.05 119.29L95.05 120.67L96.05 122.05L97.05 123.43L98.05 124.81L99.05 126.19L100.05 127.56L101.05 128.94L102.05 130.32L103.05 131.69L104.05 133.07L105.05 134.44L106.05 135.81L107.05 137.18L108.05 138.56L109.05 139.93L110.05 141.30L111.05 142.66L112.05 144.03L113.05 145.40L114.05 146.77L115.05 148.13L116.05 149.49L117.05 150.86L118.05 152.22L119.05 153.58L120.05 154.94L121.05 156.30L122.05 157.66L123.05 159.01L124.05 160.37L125.05 161.73L126.05 163.08L127.05 164.43L128.05 165.78L129.05 167.13L130.05 168.48L131.05 169.83L132.05 171.17L133.05 172.51L134.05 173.86L135.05 175.20L136.05 176.54L137.05 177.88L138.05 179.21L139.05 180.55L140.05 181.88L141.05 183.21L142.05 184.54L143.05 185.87L144.05 187.20L145.05 188.52L146.05 189.84L147.05 191.16L148.05 192.48L149.05 193.80L150.05 195.11L151.05 196.42L152.05 197.73L153.05 199.04L154.05 200.35L155.05 201.65L156.05 202.95L157.05 204.25L158.05 205.55L159.05 206.84L160.05 208.13L161.05 209.42L162.05 210.71L163.05 211.99L164.05 213.27L165.05 214.55L166.05 215.82L167.05 217.09L168.05 218.36L169.05 219.62L170.05 220.89L171.05 222.15L172.05 223.40L173.05 224.65L174.05 225.90L175.05 227.15L176.05 228.39L177.05 229.63L178.05 230.86L179.05 232.09L180.05 233.32L181.05 234.54L182.05 235.76L183.05 236.97L184.05 238.18L185.05 239.39L186.05 240.59L187.05 241.78L188.05 242.98L189.05 244.16L190.05 245.35L191.05 246.52L192.05 247.70L193.05 248.86L194.05 250.03L195.05 251.19L196.05 252.34L197.05 253.48L198.05 254.63L199.05 255.76L200.05 256.89L201.05 258.02L202.05 259.14L203.05 260.25L204.05 261.36L205.05 262.46L206.05 263.55L207.05 264.64L208.05 265.72L209.05 266.80L210.05 267.86L211.05 268.93L212.05 269.98L213.05 271.03L214.05 272.07L215.05 273.11L216.05 274.13L217.05 275.15L218.05 276.16L219.05 277.17L220.05 278.17L221.05 279.16L222.05 280.14L223.05 281.11L224.05 282.08L225.05 283.04L226.05 283.99L227.05 284.93L228.05 285.86L229.05 286.79L230.05 287.70L231.05 288.61L232.05 289.51L233.05 290.40L234.05 291.29L235.05 292.16L236.05 293.03L237.05 293.88L238.05 294.73L239.05 295.57L240.05 296.40L241.05 297.22L242.05 298.03L243.05 298.83L244.05 299.63L245.05 300.41L246.05 301.19L247.05 301.95L248.05 302.71L249.05 303.45L250.05 304.19L251.05 304.92L252.05 305.64L253.05 306.35L254.05 307.05L255.05 307.74L256.05 308.42L257.05 309.09L258.05 309.76L259.05 310.41L260.05 311.05L261.05 311.69L262.05 312.31L263.05 312.93L264.05 313.54L265.05 314.14L266.05 314.72L267.05 315.30L268.05 315.87L269.05 316.44L270.05 316.99L271.05 317.53L272.05 318.07L273.05 318.59L274.05 319.11L275.05 319.62L276.05 320.12L277.05 320.61L278.05 321.10L279.05 321.57L280.05 322.04L281.05 322.49L282.05 322.94L283.05 323.39L284.05 323.82L285.05 324.25L286.05 324.67L287.05 325.08L288.05 325.48L289.05 325.88L290.05 326.26L291.05 326.64L292.05 327.02L293.05 327.38L294.05 327.74L295.05 328.09L296.05 328.44L297.05 328.78L298.05 329.11L299.05 329.44L300.05 329.75L301.05 330.07L302.05 330.37L303.05 330.67L304.05 330.97L305.05 331.25L306.05 331.53L307.05 331.81L308.05 332.08L309.05 332.35L310.05 332.60L311.05 332.86L312.05 333.11L313.05 333.35L314.05 333.59L315.05 333.82L316.05 334.05L317.05 334.27L318.05 334.49L319.05 334.70L320.05 334.91L321.05 335.11L322.05 335.31L323.05 335.51L324.05 335.70L325.05 335.89L326.05 336.07L327.05 336.25L328.05 336.42L329.05 336.60L330.05 336.76L331.05 336.93L332.05 337.09L333.05 337.24L334.05 337.40L335.05 337.55L336.05 337.69L337.05 337.83L338.05 337.97L339.05 338.11L340.05 338.24L341.05 338.37L342.05 338.50L343.05 338.63L344.05 338.75L345.05 338.87L346.05 338.98L347.05 339.10L348.05 339.21L349.05 339.32L350.05 339.42L351.05 339.53L352.05 339.63L353.05 339.73L354.05 339.82L355.05 339.92L356.05 340.01L357.05 340.10L358.05 340.19L359.05 340.27L360.05 340.36L361.05 340.44L362.05 340.52L363.05 340.60L364.05 340.68L365.05 340.75L366.05 340.82L367.05 340.90L368.05 340.97L369.05 341.03L370.05 341.10L371.05 341.17L372.05 341.23L373.05 341.29L374.05 341.35L375.05 341.41L376.05 341.47L377.05 341.53L378.05 341.58L379.05 341.64L380.05 341.69L381.05 341.74L382.05 341.79L383.05 341.84L384.05 341.89L385.05 341.93L386.05 341.98L387.05 342.03L388.05 342.07L389.05 342.11L390.05 342.15L391.05 342.20L392.05 342.24L393.05 342.27L394.05 342.31L395.05 342.35L396.05 342.39L397.05 342.42L398.05 342.46L399.05 342.49L400.05 342.52L401.05 342.56L402.05 342.59L403.05 342.62L404.05 342.65L405.05 342.68" stroke="#ff0000" stroke-width="4.0"/>
<path d="M33.05 267.7757198649875H405.5" stroke="#008000" stroke-width="4.0"/>
<path d="M33.05 258.10L34.05 258.10L35.05 258.10L36.05 258.10L37.05 258.10L38.05 258.10L39.05 258.10L40.05 258.10L41.05 258.10L42.05 258.10L43.05 258.10L44.05 258.10L45.05 258.10L46.05 258.10L47.05 258.10L48.05 258.10L49.05 258.10L50.05 258.10L51.05 258.10L52.05 258.09L53.05 258.09L54.05 258.09L55.05 258.09L56.05 258.09L57.05 258.09L58.05 258.09L59.05 258.09L60.05 258.09L61.05 258.09L62.05 258.09L63.05 258.09L64.05 258.08L65.05 258.08L66.05 258.08L67.05 258.08L68.05 258.08L69.05 258.08L70.05 258.08L71.05 258.08L72.05 258.07L73.05 258.07L74.05 258.07L75.05 258.07L76.05 258.07L77.05 258.07L78.05 258.06L79.05 258.06L80.05 258.06L81.05 258.06L82.05 258.05L83.05 258.05L84.05 258.05L85.05 258.05L86.05 258.04L87.05 258.04L88.05 258.04L89.05 258.03L90.05 258.03L91.05 258.03L92.05 258.02L93.05 258.02L94.05 258.02L95.05 258.01L96.05 258.01L97.05 258.00L98.05 258.00L99.05 257.99L100.05 257.99L101.05 257.98L102.05 257.98L103.05 257.97L104.05 257.96L105.05 257.96L106.05 257.95L107.05 257.94L108.05 257.94L109.05 257.93L110.05 257.92L111.05 257.91L112.05 257.91L113.05 257.90L114.05 257.89L115.05 257.88L116.05 257.87L117.05 257.86L118.05 257.84L119.05 257.83L120.05 257.82L121.05 257.81L122.05 257.80L123.05 257.78L124.05 257.77L125.05 257.75L126.05 257.74L127.05 257.72L128.05 257.70L129.05 257.69L130.05 257.67L131.05 257.65L132.05 257.63L133.05 257.61L134.05 257.59L135.05 257.56L136.05 257.54L137.05 257.52L138.05 257.49L139.05 257.47L140.05 257.44L141.05 257.41L142.05 257.38L143.05 257.35L144.05 257.32L145.05 257.28L146.05 257.25L147.05 257.21L148.05 257.18L149.05 257.14L150.05 257.10L151.05 257.06L152.05 257.01L153.05 256.97L154.05 256.92L155.05 256.87L156.05 256.82L157.05 256.77L158.05 256.72L159.05 256.66L160.05 256.60L161.05 256.54L162.05 256.48L163.05 256.41L164.05 256.35L165.05 256.28L166.05 256.20L167.05 256.13L168.05 256.05L169.05 255.97L170.05 255.89L171.05 255.80L172.05 255.71L173.05 255.62L174.05 255.53L175.05 255.43L176.05 255.33L177.05 255.22L178.05 255.12L179.05 255.00L180.05 254.89L181.05 254.77L182.05 254.65L183.05 254.52L184.05 254.39L185.05 254.26L186.05 254.12L187.05 253.98L188.05 253.83L189.05 253.68L190.05 253.53L191.05 253.37L192.05 253.21L193.05 253.04L194.05 252.87L195.05 252.69L196.05 252.51L197.05 252.32L198.05 252.13L199.05 251.94L200.05 251.74L201.05 251.53L202.05 251.32L203.05 251.10L204.05 250.88L205.05 250.66L206.05 250.43L207.05 250.19L208.05 249.95L209.05 249.70L210.05 249.45L211.05 249.20L212.05 248.94L213.05 248.67L214.05 248.40L215.05 248.12L216.05 247.84L217.05 247.55L218.05 247.26L219.05 246.96L220.05 246.66L221.05 246.35L222.05 246.04L223.05 245.73L224.05 245.41L225.05 245.08L226.05 244.75L227.05 244.41L228.05 244.07L229.05 243.73L230.05 243.38L231.05 243.03L232.05 242.67L233.05 242.31L234.05 241.94L235.05 241.57L236.05 241.20L237.05 240.82L238.05 240.44L239.05 240.06L240.05 239.67L241.05 239.28L242.05 238.89L243.05 238.49L244.05 238.09L245.05 237.68L246.05 237.28L247.05 236.87L248.05 236.45L249.05 236.04L250.05 235.62L251.05 235.20L252.05 234.78L253.05 234.35L254.05 233.93L255.05 233.50L256.05 233.07L257.05 232.63L258.05 232.20L259.05 231.76L260.05 231.32L261.05 230.88L262.05 230.44L263.05 230.00L264.05 229.55L265.05 229.11L266.05 228.66L267.05 228.21L268.05 227.76L269.05 227.31L270.05 226.86L271.05 226.41L272.05 225.95L273.05 225.50L274.05 225.04L275.05 224.59L276.05 224.13L277.05 223.67L278.05 223.22L279.05 222.76L280.05 222.30L281.05 221.84L282.05 221.38L283.05 220.92L284.05 220.45L285.05 219.99L286.05 219.53L287.05 219.07L288.05 218.60L289.05 218.14L290.05 217.67L291.05 217.21L292.05 216.75L293.05 216.28L294.05 215.82L295.05 215.35L296.05 214.89L297.05 214.42L298.05 213.95L299.05 213.49L300.05 213.02L301.05 212.55L302.05 212.09L303.05 211.62L304.05 211.15L305.05 210.69L306.05 210.22L307.05 209.75L308.05 209.28L309.05 208.82L310.05 208.35L311.05 207.88L312.05 207.41L313.05 206.95L314.05 206.48L315.05 206.01L316.05 205.54L317.05 205.07L318.05 204.61L319.05 204.14L320.05 203.67L321.05 203.20L322.05 202.73L323.05 202.26L324.05 201.80L325.05 201.33L326.05 200.86L327.05 200.39L328.05 199.92L329.05 199.45L330.05 198.98L331.05 198.52L332.05 198.05L333.05 197.58L334.05 197.11L335.05 196.64L336.05 196.17L337.05 195.70L338.05 195.24L339.05 194.77L340.05 194.30L341.05 193.83L342.05 193.36L343.05 192.89L344.05 192.42L345.05 191.95L346.05 191.48L347.05 191.02L348.05 190.55L349.05 190.08L350.05 189.61L351.05 189.14L352.05 188.67L353.05 188.20L354.05 187.73L355.05 187.27L356.05 186.80L357.05 186.33L358.05 185.86L359.05 185.39L360.05 184.92L361.05 184.45L362.05 183.98L363.05 183.51L364.05 183.05L365.05 182.58L366.05 182.11L367.05 181.64L368.05 181.17L369.05 180.70L370.05 180.23L371.05 179.76L372.05 179.29L373.05 178.82L374.05 178.36L375.05 177.89L376.05 177.42L377.05 176.95L378.05 176.48L379.05 176.01L380.05 175.54L381.05 175.07L382.05 174.60L383.05 174.14L384.05 173.67L385.05 173.20L386.05 172.73L387.05 172.26L388.05 171.79L389.05 171.32L390.05 170.85L391.05 170.38L392.05 169.92L393.05 169.45L394.05 168.98L395.05 168.51L396.05 168.04L397.05 167.57L398.05 167.10L399.05 166.63L400.05 166.16L401.05 165.69L402.05 165.23L403.05 164.76L404.05 164.29L405.05 163.82" stroke="#000000" stroke-width="4.0"/>
<path d="M33.05 240.91L34.05 240.91L35.05 240.91L36.05 240.91L37.05 240.91L38.05 240.91L39.05 240.91L40.05 240.91L41.05 240.91L42.05 240.91L43.05 240.91L44.05 240.91L45.05 240.91L46.05 240.91L47.05 240.91L48.05 240.91L49.05 240.91L50.05 240.91L51.05 240.91L52.05 240.91L53.05 240.91L54.05 240.91L55.05 240.91L56.05 240.91L57.05 240.91L58.05 240.91L59.05 240.91L60.05 240.91L61.05 240.91L62.05 240.91L63.05 240.91L64.05 240.91L65.05 240.91L66.05 240.91L67.05 240.91L68.05 240.91L69.05 240.91L70.05 240.91L71.05 240.91L72.05 240.91L73.05 240.91L74.05 240.91L75.05 240.91L76.05 240.91L77.05 240.91L78.05 240.91L79.05 240.91L80.05 240.91L81.05 240.91L82.05 240.91L83.05 240.91L84.05 240.91L85.05 240.91L86.05 240.91L87.05 240.91L88.05 240.91L89.05 240.91L90.05 240.91L91.05 240.91L92.05 240.91L93.05 240.91L94.05 240.91L95.05 240.91L96.05 240.91L97.05 240.91L98.05 240.91L99.05 240.91L100.05 240.91L101.05 240.91L102.05 240.90L103.05 240.90L104.05 240.90L105.05 240.90L106.05 240.90L107.05 240.90L108.05 240.90L109.05 240.90L110.05 240.90L111.05 240.90L112.05 240.90L113.05 240.89L114.05 240.89L115.05 240.89L116.05 240.89L117.05 240.89L118.05 240.89L119.05 240.88L120.05 240.88L121.05 240.88L122.05 240.88L123.05 240.88L124.05 240.87L125.05 240.87L126.05 240.87L127.05 240.86L128.05 240.86L129.05 240.86L130.05 240.85L131.05 240.85L132.05 240.84L133.05 240.84L134.05 240.83L135.05 240.83L136.05 240.82L137.05 240.82L138.05 240.81L139.05 240.80L140.05 240.80L141.05 240.79L142.05 240.78L143.05 240.77L144.05 240.76L145.05 240.75L146.05 240.74L147.05 240.73L148.05 240.72L149.05 240.70L150.05 240.69L151.05 240.67L152.05 240.66L153.05 240.64L154.05 240.62L155.05 240.61L156.05 240.59L157.05 240.56L158.05 240.54L159.05 240.52L160.05 240.49L161.05 240.46L162.05 240.43L163.05 240.40L164.05 240.37L165.05 240.34L166.05 240.30L167.05 240.26L168.05 240.22L169.05 240.17L170.05 240.13L171.05 240.08L172.05 240.02L173.05 239.97L174.05 239.91L175.05 239.85L176.05 239.78L177.05 239.71L178.05 239.64L179.05 239.56L180.05 239.48L181.05 239.39L182.05 239.30L183.05 239.20L184.05 239.10L185.05 238.99L186.05 238.88L187.05 238.76L188.05 238.63L189.05 238.50L190.05 238.36L191.05 238.21L192.05 238.05L193.05 237.89L194.05 237.72L195.05 237.54L196.05 237.35L197.05 237.15L198.05 236.95L199.05 236.73L200.05 236.50L201.05 236.26L202.05 236.02L203.05 235.76L204.05 235.49L205.05 235.20L206.05 234.91L207.05 234.60L208.05 234.29L209.05 233.95L210.05 233.61L211.05 233.25L212.05 232.88L213.05 232.50L214.05 232.10L215.05 231.69L216.05 231.26L217.05 230.82L218.05 230.36L219.05 229.89L220.05 229.41L221.05 228.91L222.05 228.40L223.05 227.87L224.05 227.33L225.05 226.77L226.05 226.20L227.05 225.62L228.05 225.02L229.05 224.41L230.05 223.78L231.05 223.14L232.05 222.49L233.05 221.82L234.05 221.14L235.05 220.45L236.05 219.75L237.05 219.03L238.05 218.31L239.05 217.57L240.05 216.82L241.05 216.06L242.05 215.29L243.05 214.51L244.05 213.73L245.05 212.93L246.05 212.12L247.05 211.31L248.05 210.49L249.05 209.66L250.05 208.83L251.05 207.98L252.05 207.14L253.05 206.28L254.05 205.42L255.05 204.56L256.05 203.69L257.05 202.81L258.05 201.93L259.05 201.05L260.05 200.16L261.05 199.27L262.05 198.37L263.05 197.47L264.05 196.57L265.05 195.67L266.05 194.76L267.05 193.85L268.05 192.94L269.05 192.03L270.05 191.11L271.05 190.19L272.05 189.27L273.05 188.35L274.05 187.43L275.05 186.51L276.05 185.58L277.05 184.66L278.05 183.73L279.05 182.80L280.05 181.88L281.05 180.95L282.05 180.02L283.05 179.09L284.05 178.16L285.05 177.22L286.05 176.29L287.05 175.36L288.05 174.43L289.05 173.49L290.05 172.56L291.05 171.62L292.05 170.69L293.05 169.75L294.05 168.82L295.05 167.88L296.05 166.95L297.05 166.01L298.05 165.08L299.05 164.14L300.05 163.20L301.05 162.27L302.05 161.33L303.05 160.39L304.05 159.46L305.05 158.52L306.05 157.58L307.05 156.65L308.05 155.71L309.05 154.77L310.05 153.84L311.05 152.90L312.05 151.96L313.05 151.02L314.05 150.09L315.05 149.15L316.05 148.21L317.05 147.27L318.05 146.34L319.05 145.40L320.05 144.46L321.05 143.52L322.05 142.59L323.05 141.65L324.05 140.71L325.05 139.77L326.05 138.83L327.05 137.90L328.05 136.96L329.05 136.02L330.05 135.08L331.05 134.15L332.05 133.21L333.05 132.27L334.05 131.33L335.05 130.39L336.05 129.46L337.05 128.52L338.05 127.58L339.05 126.64L340.05 125.71L341.05 124.77L342.05 123.83L343.05 122.89L344.05 121.95L345.05 121.02L346.05 120.08L347.05 119.14L348.05 118.20L349.05 117.27L350.05 116.33L351.05 115.39L352.05 114.45L353.05 113.51L354.05 112.58L355.05 111.64L356.05 110.70L357.05 109.76L358.05 108.82L359.05 107.89L360.05 106.95L361.05 106.01L362.05 105.07L363.05 104.13L364.05 103.20L365.05 102.26L366.05 101.32L367.05 100.38L368.05 99.45L369.05 98.51L370.05 97.57L371.05 96.63L372.05 95.69L373.05 94.76L374.05 93.82L375.05 92.88L376.05 91.94L377.05 91.00L378.05 90.07L379.05 89.13L380.05 88.19L381.05 87.25L382.05 86.32L383.05 85.38L384.05 84.44L385.05 83.50L386.05 82.56L387.05 81.63L388.05 80.69L389.05 79.75L390.05 78.81L391.05 77.87L392.05 76.94L393.05 76.00L394.05 75.06L395.05 74.12L396.05 73.19L397.05 72.25L398.05 71.31L399.05 70.37L400.05 69.43L401.05 68.50L402.05 67.56L403.05 66.62L404.05 65.68L405.05 64.74" stroke="#000000" stroke-width="4.0"/>
<rect x="355" y="266" width="1.5" height="3.8" fill="#ff0000"/>
<rect x="373.6" y="266" width="2.4" height="3.8" fill="#ff0000"/>
<rect x="400.2" y="266" width="3.2" height="3.8" fill="#ff0000"/>
</g>
<rect x="35.05" y="23.5" width="368.4" height="368.4" fill="none" stroke="#808080" stroke-width="1"/>
<path d="M35.0 58.2h4.8M403.5 58.2h-4.8M35.0 29.5h4.8M403.5 29.5h-4.8M35.0 153.6h4.8M403.5 153.6h-4.8M35.0 124.9h4.8M403.5 124.9h-4.8M35.0 108.1h4.8M403.5 108.1h-4.8M35.0 96.2h4.8M403.5 96.2h-4.8M35.0 86.9h4.8M403.5 86.9h-4.8M35.0 79.4h4.8M403.5 79.4h-4.8M35.0 73.0h4.8M403.5 73.0h-4.8M35.0 67.4h4.8M403.5 67.4h-4.8M35.0 62.6h4.8M403.5 62.6h-4.8M35.0 249.1h4.8M403.5 249.1h-4.8M35.0 220.3h4.8M403.5 220.3h-4.8M35.0 203.5h4.8M403.5 203.5h-4.8M35.0 191.6h4.8M403.5 191.6h-4.8M35.0 182.4h4.8M403.5 182.4h-4.8M35.0 174.8h4.8M403.5 174.8h-4.8M35.0 168.4h4.8M403.5 168.4h-4.8M35.0 162.9h4.8M403.5 162.9h-4.8M35.0 158.0h4.8M403.5 158.0h-4.8M35.0 344.5h4.8M403.5 344.5h-4.8M35.0 315.8h4.8M403.5 315.8h-4.8M35.0 299.0h4.8M403.5 299.0h-4.8M35.0 287.0h4.8M403.5 287.0h-4.8M35.0 277.8h4.8M403.5 277.8h-4.8M35.0 270.2h4.8M403.5 270.2h-4.8M35.0 263.8h4.8M403.5 263.8h-4.8M35.0 258.3h4.8M403.5 258.3h-4.8M35.0 253.4h4.8M403.5 253.4h-4.8M35.0 382.5h4.8M403.5 382.5h-4.8M35.0 373.2h4.8M403.5 373.2h-4.8M35.0 365.7h4.8M403.5 365.7h-4.8M35.0 359.3h4.8M403.5 359.3h-4.8M35.0 353.7h4.8M403.5 353.7h-4.8M35.0 348.9h4.8M403.5 348.9h-4.8M42.4 391.9v-4.2M42.4 23.5v4.2M64.5 391.9v-2.5M86.6 391.9v-2.5M86.6 23.5v4.2M108.7 391.9v-2.5M130.8 391.9v-4.2M130.8 23.5v4.2M152.9 391.9v-2.5M175.0 391.9v-2.5M175.0 23.5v4.2M197.1 391.9v-2.5M219.2 391.9v-4.2M219.2 23.5v4.2M241.3 391.9v-2.5M263.4 391.9v-2.5M263.4 23.5v4.2M285.5 391.9v-2.5M307.6 391.9v-4.2M307.6 23.5v4.2M329.7 391.9v-2.5M351.8 391.9v-2.5M351.8 23.5v4.2M373.9 391.9v-2.5M396.0 391.9v-4.2M396.0 23.5v4.2" stroke="#2a2a2a" stroke-width="0.9" fill="none"/>
<rect x="104.30" y="130.30" width="7.00" height="14.30" fill="#fff"/>
<rect x="125.50" y="93.54" width="10.00" height="14.14" fill="#fff"/>
<rect x="129.83" y="63.80" width="17.47" height="14.30" fill="#fff"/>
<rect x="138.48" y="35.24" width="20.14" height="13.96" fill="#fff"/>
<rect x="227.18" y="179.94" width="20.25" height="14.14" fill="#fff"/>
<rect x="301.92" y="147.34" width="9.70" height="14.14" fill="#fff"/>
<rect x="381.62" y="163.92" width="9.93" height="13.96" fill="#fff"/>
<rect x="235.71" y="258.82" width="10.47" height="13.78" fill="#fff"/>
<rect x="191.98" y="279.79" width="9.93" height="14.14" fill="#fff"/>
<path d="M110.60 143.90H108.50V133.85Q107.87 134.39 106.84 134.93T105.00 135.75V134.22Q106.47 133.60 107.57 132.72T109.25 131.00H110.60Z" fill="#ff0000"/>
<text x="125.50" y="106.80" font-size="18" fill="#ff0000">0</text>
<rect x="130.53" y="71.91" width="8.75" height="1.45" fill="#ff0000"/>
<path d="M146.60 77.40H144.50V67.35Q143.87 67.89 142.84 68.43T141.00 69.25V67.73Q142.47 67.10 143.57 66.22T145.25 64.50H146.60Z" fill="#ff0000"/>
<rect x="139.18" y="43.00" width="8.75" height="1.45" fill="#ff0000"/>
<text x="148.81" y="48.50" font-size="18" fill="#ff0000">2</text>
<rect x="227.88" y="187.70" width="8.75" height="1.45" fill="#ff0000"/>
<text x="237.51" y="193.20" font-size="18" fill="#ff0000">3</text>
<text x="301.70" y="160.60" font-size="18" fill="#111111">6</text>
<text x="381.60" y="177.00" font-size="18" fill="#111111">5</text>
<text x="236.00" y="271.90" font-size="18" fill="#008000">4</text>
<text x="192.00" y="293.05" font-size="18" fill="#0000ff">3</text>
<rect x="33.06" y="406.81" width="8.75" height="1.45" fill="#111111"/>
<text x="42.69" y="412.3" font-size="18" fill="#111111">4</text>
<rect x="121.44" y="406.81" width="8.75" height="1.45" fill="#111111"/>
<text x="131.07" y="412.3" font-size="18" fill="#111111">2</text>
<text x="214.20" y="412.3" font-size="18" fill="#111111">0</text>
<text x="302.58" y="412.3" font-size="18" fill="#111111">2</text>
<text x="390.96" y="412.3" font-size="18" fill="#111111">4</text>
<text x="218.0" y="439.7" font-size="18" fill="#5a5a5a" font-style="italic" text-anchor="middle">N</text>
<path d="M6.8 215.4V209.4C8.4 212.5 11.4 215.8 14.7 217.3C16.6 218.1 17.9 217.6 18.3 215.9C18.7 213.9 19 213 20.2 213C21.3 213 22 214.6 22.4 215.7" fill="none" stroke="#1a1a1a" stroke-width="1.5" stroke-linecap="round" stroke-linejoin="miter"/>
<path d="M6.8 209.4L6.8 213.4L8.6 212.4Z" fill="#1a1a1a"/>
<text transform="translate(18.8,224.6) rotate(-90) scale(1,1)" font-size="17.5" fill="#1a1a1a">|</text>
<text transform="translate(20.1,206.9) rotate(-90) scale(1,1)" font-size="19" fill="#1a1a1a">|</text>
<text transform="translate(11.1,198.85) rotate(-90) scale(1,1)" font-size="13" fill="#1a1a1a">2</text>
</svg>
</body></html>
